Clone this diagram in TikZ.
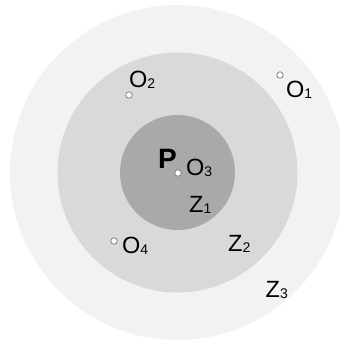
\documentclass[tikz,border=0pt]{standalone}
\usepackage{fontspec}
\setmainfont{Liberation Sans}
\usetikzlibrary{positioning}

\definecolor{zthree}{HTML}{F2F2F2}
\definecolor{ztwo}{HTML}{D9D9D9}
\definecolor{zone}{HTML}{A9A9A9}
\newcommand{\idx}[1]{\raisebox{-1pt}{\fontsize{14}{14}\selectfont #1}}

\begin{document}
\begin{tikzpicture}[x=1pt,y=-1pt,
  zonedisc/.style={circle,draw=none,inner sep=0pt},
  site/.style={circle,draw=black!50,fill=white,line width=0.8pt,inner sep=0pt,minimum size=6.5pt},
  lbl/.style={font=\fontsize{23.5}{23.5}\selectfont,inner sep=0pt,anchor=base west}]

\useasboundingbox (0,0) rectangle (340,341);
\clip (0,0) rectangle (340,341);

% zones
\node[zonedisc,fill=zthree,minimum size=335pt] (z3) at (177.5,172.5) {};
\node[zonedisc,fill=ztwo,minimum size=240pt] (z2) at (z3.center) {};
\node[zonedisc,fill=zone,minimum size=115pt] (z1) at (z3.center) {};

% sites
\node[site] (o1) at (280,75) {};
\node[site] (o2) at (129,95) {};
\node[site] (o3) at (178,173) {};
\node[site] (o4) at (114,241) {};

% labels
\node[lbl] (lo1) at (286,97) {O\idx{1}};
\node[lbl] (lo2) at (129,87) {O\idx{2}};
\node[lbl] (lo3) at (186,175.5) {O\idx{3}};
\node[lbl] (lo4) at (122,253) {O\idx{4}};
\node[lbl,font=\fontsize{28}{28}\selectfont\bfseries] (p) at (158,168) {P};
\node[lbl] (lz1) at (189,212) {Z\idx{1}};
\node[lbl] (lz2) at (228,251) {Z\idx{2}};
\node[lbl] (lz3) at (265.5,297) {Z\idx{3}};

\end{tikzpicture}
\end{document}
